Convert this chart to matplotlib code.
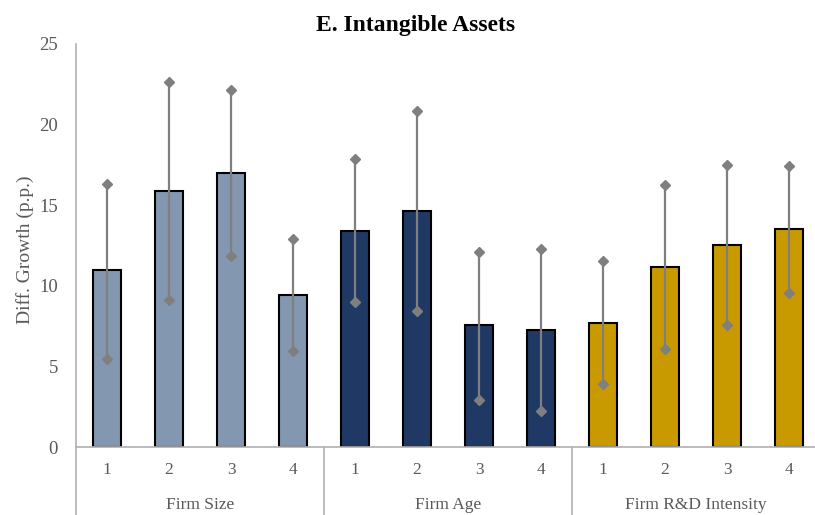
import numpy as np
import matplotlib.pyplot as plt

groups = ['Firm Size', 'Firm Age', 'Firm R&D Intensity']
quartiles = ['1', '2', '3', '4']
size_vals = [10.95, 15.88, 16.98, 9.45]
age_vals = [13.4, 14.65, 7.55, 7.27]
rd_vals = [7.7, 11.17, 12.52, 13.5]
size_hi = [16.33, 22.62, 22.13, 12.9]
age_hi = [17.85, 20.84, 12.12, 12.26]
rd_hi = [11.54, 16.27, 17.49, 17.45]
size_lo = [5.48, 9.1, 11.83, 5.98]
age_lo = [9.0, 8.46, 2.92, 2.23]
rd_lo = [3.89, 6.08, 7.57, 9.57]
colors = ['#8497B0', '#203864', '#C99A00']

plt.rcParams['font.family'] = ['Liberation Serif', 'DejaVu Serif']
gray = '#595959'
line_gray = '#B0B0B0'

fig = plt.figure(figsize=(8.15, 5.15), dpi=100)
ax = fig.add_axes([76/815, 68/515, 744/815, 403/515])

vals = [size_vals, age_vals, rd_vals]
his = [size_hi, age_hi, rd_hi]
los = [size_lo, age_lo, rd_lo]
for g in range(3):
    x = np.arange(4) + 4*g
    ax.bar(x, vals[g], width=0.45, color=colors[g], edgecolor='black', linewidth=1.5, zorder=2)
    for i in range(4):
        ax.plot([x[i], x[i]], [los[g][i], his[g][i]], color='#7F7F7F', lw=1.6,
                marker='D', markersize=5, zorder=3)

ax.set_xlim(-0.5, 11.5)
ax.set_ylim(0, 25)
ax.set_yticks([0, 5, 10, 15, 20, 25])
ax.tick_params(axis='y', length=0, pad=13, labelsize=13.5, labelcolor=gray)
ax.set_xticks([])
for s in ['top', 'right']:
    ax.spines[s].set_visible(False)
ax.spines['left'].set_color(line_gray)
ax.spines['bottom'].set_color(line_gray)
ax.spines['left'].set_linewidth(1.2)
ax.spines['bottom'].set_linewidth(1.2)

trans = ax.get_xaxis_transform()
for xs in [-0.5, 3.5, 7.5]:
    ax.plot([xs, xs], [0, -0.17], transform=trans, color=line_gray, lw=1.2, clip_on=False)
for g in range(3):
    for i in range(4):
        ax.text(4*g + i, -0.057, quartiles[i], transform=trans, ha='center', va='center',
                fontsize=12.5, color=gray)
    ax.text(4*g + 1.5, -0.145, groups[g], transform=trans, ha='center', va='center',
            fontsize=12.5, color=gray)

ax.set_ylabel('Diff. Growth (p.p.)', fontsize=14, color=gray)
ax.yaxis.set_label_coords(-42/744, 0.49)
fig.text(416/815, 1 - 25/515, 'E. Intangible Assets', ha='center', va='center',
         fontsize=17, fontweight='bold')

fig.savefig('out.png', dpi=100)
